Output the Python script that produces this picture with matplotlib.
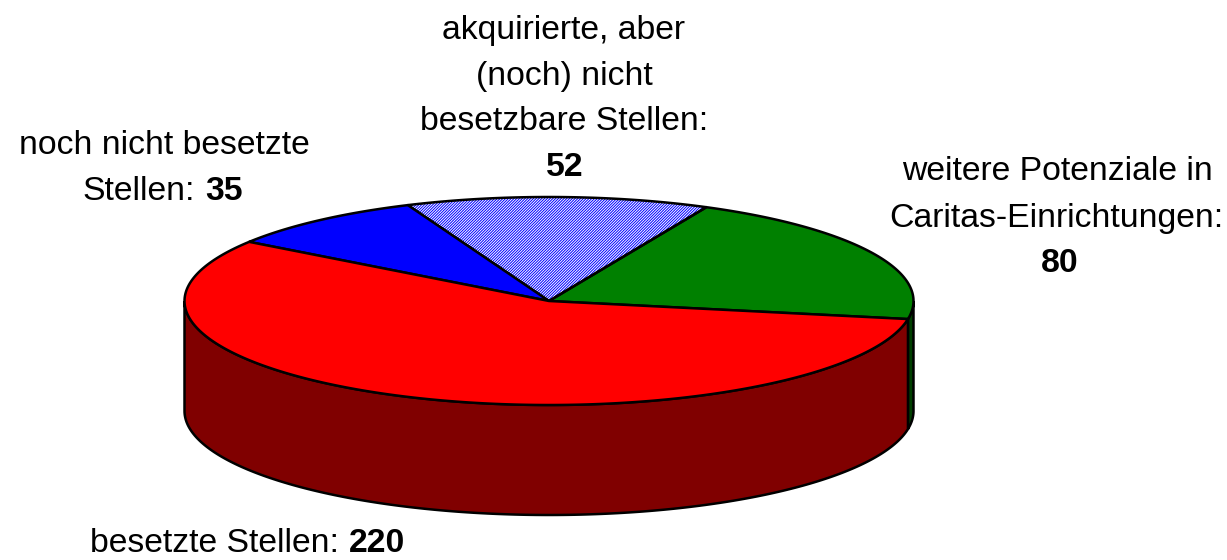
import numpy as np
import matplotlib
matplotlib.use('Agg')
import matplotlib.pyplot as plt
from matplotlib.patches import Polygon

plt.rcParams['font.family'] = ['Liberation Sans', 'DejaVu Sans']
plt.rcParams['hatch.linewidth'] = 0.7

#values, counter clockwise from the right hand side
labels = ['weitere Potenziale', 'akquirierte', 'noch nicht besetzte', 'besetzte']
values = [80, 52, 35, 220]
top_colors = ['#008000', '#4646f0', '#0000ff', '#ff0000']
side_colors = ['#004000', '#000080', '#000080', '#800000']
hatches = [None, '////////////', None, None]

#pie geometry in pixels
cx, cy = 549, 301
rx, ry = 364.5, 104
depth = 110
start_angle = -10


def rim(a0, a1, dy=0):
    t = np.radians(np.linspace(a0, a1, 200))
    return np.column_stack([cx + rx * np.cos(t), cy - ry * np.sin(t) + dy])


fig = plt.figure(figsize=(12.27, 5.6), dpi=100)
ax = fig.add_axes([0, 0, 1, 1])
ax.set_xlim(0, 1227)
ax.set_ylim(560, 0)
ax.axis('off')

#wedge angles from the values
angles = start_angle + np.cumsum([0] + values) * 360 / sum(values)

#side walls, only the part of the rim facing the viewer
for i in range(len(values)):
    a0, a1 = angles[i], angles[i + 1]
    for lo, hi in [(a0, a1), (a0 - 360, a1 - 360)]:
        lo2, hi2 = max(lo, -180), min(hi, 0)
        if hi2 > lo2:
            front = rim(lo2, hi2)
            back = rim(hi2, lo2, depth)
            ax.add_patch(Polygon(np.vstack([front, back]), closed=True,
                                 facecolor=side_colors[i], edgecolor='black',
                                 linewidth=1.8, zorder=2))

#top faces
for i in range(len(values)):
    pts = np.vstack([[[cx, cy]], rim(angles[i], angles[i + 1])])
    if hatches[i]:
        ax.add_patch(Polygon(pts, closed=True, facecolor='#0000ff', edgecolor='white',
                             hatch=hatches[i], linewidth=0, zorder=3))
        ax.add_patch(Polygon(pts, closed=True, fill=False, edgecolor='black',
                             linewidth=1.8, zorder=4))
    else:
        ax.add_patch(Polygon(pts, closed=True, facecolor=top_colors[i], edgecolor='black',
                             linewidth=1.8, zorder=4))

fs = 24.3
txt = dict(fontsize=fs, color='black', va='center', ha='center')
ax.text(564, 31, 'akquirierte, aber', **txt)
ax.text(564, 76, '(noch) nicht', **txt)
ax.text(564, 121, 'besetzbare Stellen:', **txt)
ax.text(565, 167, str(values[1]), fontweight='bold', **txt)

ax.text(164, 145, 'noch nicht besetzte', **txt)
ax.text(139, 191, 'Stellen:', **txt)
ax.text(224, 191, str(values[2]), fontweight='bold', **txt)

ax.text(1057, 172, 'weitere Potenziale in', **txt)
ax.text(1056, 218, 'Caritas-Einrichtungen:', **txt)
ax.text(1060, 263, str(values[0]), fontweight='bold', **txt)

ax.text(214, 544, 'besetzte Stellen:', **txt)
ax.text(377, 544, str(values[3]), fontweight='bold', **txt)

fig.savefig('out.png', dpi=100)
